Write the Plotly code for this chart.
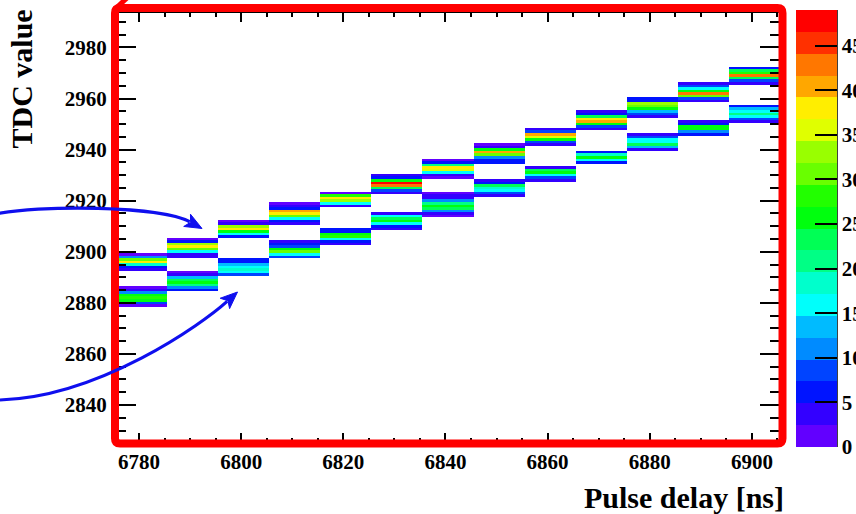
import plotly.graph_objects as go

# ---- histogram content: TDC value vs pulse delay (10 ns bins, 1 TDC bins) ----
pulse_delay_ns = [6780.5, 6790.5, 6800.5, 6810.5, 6820.5, 6830.5, 6840.5,
                  6850.5, 6860.5, 6870.5, 6880.5, 6890.5, 6900.5]

# upper band of each delay bin: highest occupied TDC bin, counts listed downward
upper_top_tdc = [2899, 2905, 2912, 2919, 2923, 2930, 2936, 2942, 2948, 2955, 2960, 2966, 2972]
upper_counts = [
    [2, 10, 30, 37, 18, 7, 3],
    [2, 6, 33, 37, 30, 17, 4, 3],
    [2, 4, 32, 37, 26, 16, 7],
    [2, 3, 7, 41, 37, 30, 16, 7, 3],
    [2, 28, 37, 34, 16, 3],
    [3, 6, 26, 48, 42, 24, 8, 3],
    [2, 7, 22, 37, 35, 16, 4, 2],
    [2, 3, 26, 40, 30, 12, 7, 6],
    [3, 8, 40, 36, 26, 8, 3],
    [3, 6, 24, 37, 41, 26, 8, 3],
    [6, 7, 32, 30, 26, 14, 8, 3],
    [3, 8, 16, 26, 42, 30, 8, 3],
    [6, 24, 27, 42, 24, 8, 3],
]

# lower band of each delay bin
lower_top_tdc = [2886, 2892, 2897, 2904, 2909, 2915, 2923, 2928, 2933, 2939, 2946, 2951, 2957]
lower_counts = [
    [2, 4, 12, 26, 29, 25, 8, 2],
    [2, 4, 14, 24, 26, 20, 12, 6],
    [5, 7, 13, 17, 19, 15, 8],
    [3, 5, 8, 26, 30, 16, 8],
    [6, 7, 25, 27, 17, 7, 3],
    [3, 16, 24, 25, 17, 7, 3],
    [2, 3, 3, 10, 22, 26, 24, 12, 4, 2],
    [3, 7, 24, 18, 16, 8, 3],
    [3, 24, 26, 17, 8, 3],
    [5, 18, 26, 16, 7],
    [3, 8, 16, 17, 24, 14, 4],
    [3, 7, 25, 26, 10, 6],
    [6, 13, 16, 22, 16, 8, 4],
]

tdc_first_bin, tdc_last_bin = 2826, 2993
x_ticks = [6780, 6800, 6820, 6840, 6860, 6880, 6900]
y_ticks = [2840, 2860, 2880, 2900, 2920, 2940, 2960, 2980]
z_ticks = [0, 5, 10, 15, 20, 25, 30, 35, 40, 45]
z_max = 49

# ROOT "pretty" palette sampled at 20 contour levels (violet -> red)
palette = ["#6200ff", "#3300ff", "#0014ff", "#0044ff", "#008bff",
           "#00bbff", "#00fffb", "#00ffcc", "#00ff85", "#00ff55",
           "#00ff0e", "#22ff00", "#69ff00", "#99ff00", "#e0ff00",
           "#ffee00", "#ffa700", "#ff7700", "#ff3000", "#ff0000"]

# ---- fill the 2D grid ----
tdc_bins = list(range(tdc_first_bin, tdc_last_bin + 1))
z = [[None] * len(pulse_delay_ns) for _ in tdc_bins]
for tops, counts in ((upper_top_tdc, upper_counts), (lower_top_tdc, lower_counts)):
    for col, (top, vals) in enumerate(zip(tops, counts)):
        for k, v in enumerate(vals):
            z[top - k - tdc_first_bin][col] = v

n = len(palette)
colorscale = []
for i, c in enumerate(palette):
    colorscale.append([i / n, c])
    colorscale.append([(i + 1) / n, c])

# ---- page geometry (pixels) ----
W_FIG, H_FIG = 856, 514
L, R, T, B = 116, 780, 13, 442


def fx(px):
    return (px - L) / (R - L)


def fy(py):
    return (B - py) / (B - T)


def pt(px, py):
    return f"{fx(px):.5f},{fy(py):.5f}"


FONT = "Liberation Serif, Times New Roman, serif"
tick_font = dict(family=FONT, size=21, color="black", weight="bold")

fig = go.Figure()
fig.add_trace(go.Heatmap(
    x=pulse_delay_ns, y=tdc_bins, z=z,
    colorscale=colorscale, zmin=0, zmax=z_max, hoverongaps=False,
    colorbar=dict(
        x=fx(796), xanchor="left", y=fy(10), yanchor="top",
        lenmode="pixels", len=437, thicknessmode="pixels", thickness=41,
        xpad=0, ypad=0, outlinewidth=0,
        ticks="inside", ticklen=22, tickwidth=1.6, tickcolor="black",
        tickvals=z_ticks, tickfont=tick_font,
    ),
))

axis_common = dict(
    showgrid=False, zeroline=False, showline=True, linecolor="black", linewidth=1,
    mirror="ticks", ticks="inside", tickcolor="black", tickwidth=1.5,
    tickfont=tick_font,
)
fig.update_xaxes(range=[6775.5, 6905.5], tickvals=x_ticks, ticklen=9,
                 minor=dict(dtick=5, tick0=6780, ticklen=4, ticks="inside", tickcolor="black"),
                 ticklabelstandoff=1, **axis_common)
fig.update_yaxes(range=[2825.5, 2993.5], tickvals=y_ticks, ticklen=20,
                 minor=dict(dtick=5, tick0=2840, ticklen=10, ticks="inside", tickcolor="black"),
                 ticklabelstandoff=4, **axis_common)

# ---- decorations: red frame and blue arrows ----
shapes = []
xl, xr, yt, yb, rc = 115, 782.5, 8, 443.5, 5
frame_path = (f"M {pt(xl, yt + rc)} Q {pt(xl, yt)} {pt(xl + rc, yt)} "
              f"L {pt(xr - rc, yt)} Q {pt(xr, yt)} {pt(xr, yt + rc)} "
              f"L {pt(xr, yb - rc)} Q {pt(xr, yb)} {pt(xr - rc, yb)} "
              f"L {pt(xl + rc, yb)} Q {pt(xl, yb)} {pt(xl, yb - rc)} Z")
shapes.append(dict(type="path", xref="paper", yref="paper", path=frame_path,
                   line=dict(color="#ff0000", width=8), layer="above"))
shapes.append(dict(type="path", xref="paper", yref="paper",
                   path=f"M {pt(114, 10)} L {pt(128, -3)}",
                   line=dict(color="#ff0000", width=5), layer="above"))

arrow_blue = "#0f0fee"


def curved_arrow(p0, p1, p2, tip, head_len=17, head_half=7):
    dx, dy = tip[0] - p2[0], tip[1] - p2[1]
    d = (dx * dx + dy * dy) ** 0.5
    ux, uy = dx / d, dy / d
    bx, by = tip[0] - ux * head_len, tip[1] - uy * head_len
    c2 = (bx - ux * 30, by - uy * 30)
    body = dict(type="path", xref="paper", yref="paper",
                path=f"M {pt(*p0)} C {pt(*p1)} {pt(*c2)} {pt(bx + ux * 3, by + uy * 3)}",
                line=dict(color=arrow_blue, width=3.2), layer="above")
    nx, ny = -uy, ux
    head = dict(type="path", xref="paper", yref="paper",
                path=(f"M {pt(*tip)} L {pt(bx + nx * head_half, by + ny * head_half)} "
                      f"L {pt(bx + ux * 4, by + uy * 4)} "
                      f"L {pt(bx - nx * head_half, by - ny * head_half)} Z"),
                fillcolor=arrow_blue, line=dict(color=arrow_blue, width=1), layer="above")
    return [body, head]


shapes += curved_arrow((-10, 215), (40, 204), (150, 200), (202, 228.5))
shapes += curved_arrow((0, 400), (100, 397), (190, 335), (237.5, 292))

# colour-bar axis line on its right edge
shapes.append(dict(type="line", xref="paper", yref="paper",
                   x0=fx(837), x1=fx(837), y0=fy(447), y1=fy(10),
                   line=dict(color="black", width=1.5), layer="above"))

title_font = dict(family=FONT, size=30, color="black", weight="bold")
annotations = [
    dict(text="Pulse delay [ns]", xref="paper", yref="paper",
         x=fx(786), y=fy(497), xanchor="right", yanchor="middle",
         showarrow=False, font=title_font),
    dict(text="TDC value", xref="paper", yref="paper", textangle=-90,
         x=fx(21), y=fy(8), xanchor="center", yanchor="top",
         showarrow=False, font=title_font),
]

fig.update_layout(
    width=W_FIG, height=H_FIG,
    margin=dict(l=L, r=W_FIG - R, t=T, b=H_FIG - B, autoexpand=False),
    plot_bgcolor="white", paper_bgcolor="white",
    shapes=shapes, annotations=annotations, showlegend=False,
)

fig.write_html("out.html")
